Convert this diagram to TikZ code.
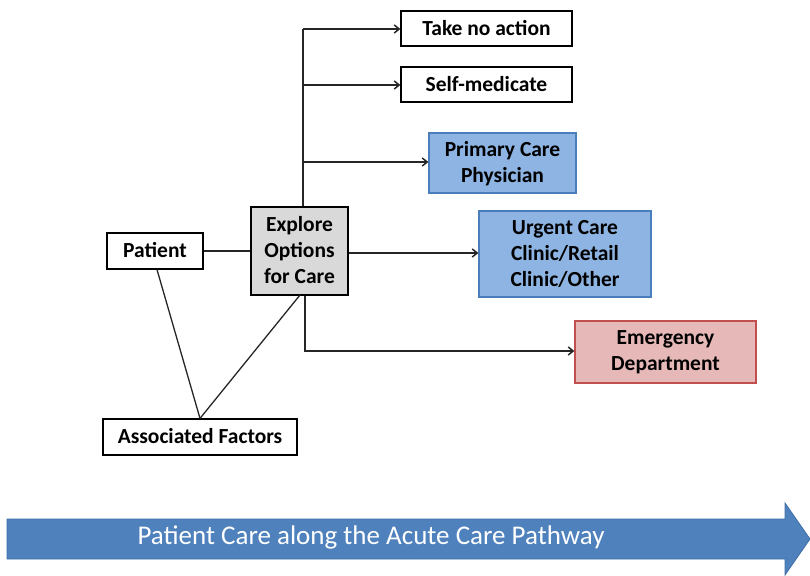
\documentclass[tikz,border=0pt]{standalone}
\usepackage{fontspec}
\setmainfont{Carlito}
\usetikzlibrary{arrows.meta}
\definecolor{bluefill}{HTML}{8DB4E2}
\definecolor{blueline}{HTML}{4A7EBB}
\definecolor{redfill}{HTML}{E6B9B8}
\definecolor{redline}{HTML}{C0504D}
\definecolor{grayfill}{HTML}{D9D9D9}
\definecolor{arrowblue}{HTML}{4F81BD}
\definecolor{arrowline}{HTML}{3F6EA8}
\tikzset{
  box/.style={draw=black, line width=1.2pt, fill=white, inner sep=0pt, align=center,
    font=\bfseries\fontsize{21.5}{26}\selectfont, text depth=2pt},
  bluebox/.style={box, draw=blueline, fill=bluefill},
  redbox/.style={box, draw=redline, fill=redfill},
  conn/.style={line width=1.5pt, draw=black!85},
  arr/.style={conn, -{Straight Barb[length=5pt,width=8pt]}},
}
\begin{document}
\begin{tikzpicture}[x=1pt,y=-1pt]
\useasboundingbox (0,0) rectangle (810,575);
% nodes
\node[box, minimum width=171pt, minimum height=35pt] (take) at (486.5,28.5) {Take no action};
\node[box, minimum width=171pt, minimum height=35pt] (self) at (486.5,84.5) {Self-medicate};
\node[bluebox, minimum width=147pt, minimum height=60pt] (pcp) at (502.5,163) {Primary Care\\Physician};
\node[box, fill=grayfill, minimum width=97pt, minimum height=88pt] (explore) at (299.5,251) {Explore\\Options\\for Care};
\node[box, minimum width=96pt, minimum height=36pt] (patient) at (155,251) {Patient};
\node[bluebox, minimum width=172pt, minimum height=86pt] (urgent) at (565,254) {Urgent Care\\Clinic/Retail\\Clinic/Other};
\node[redbox, minimum width=181pt, minimum height=62pt] (ed) at (665.5,352) {Emergency\\Department};
\node[box, minimum width=194pt, minimum height=36pt] (assoc) at (200,437) {Associated Factors};
% connectors
\coordinate (trunktop) at (303,29);
\coordinate (b2) at (303,85);
\coordinate (b3) at (303,162);
\coordinate (edturn) at (305,351);
\draw[conn, line width=2.2pt] (patient.east) -- (explore.west);
\draw[conn] (explore.north -| trunktop) -- (trunktop);
\draw[arr] (trunktop) -- (take.west |- trunktop);
\draw[arr] (b2) -- (self.west |- b2);
\draw[arr] (b3) -- (pcp.west |- b3);
\draw[arr] (explore.east |- 0,253) -- (urgent.west |- 0,253);
\draw[arr] (explore.south -| edturn) -- (edturn) -- (ed.west |- edturn);
\draw[conn, line width=1.3pt] (patient.south) ++(2,0) coordinate (ps) -- (assoc.north);
\draw[conn, line width=1.3pt] (assoc.north) -- (300,295) coordinate (es);
% big arrow
\draw[draw=arrowline, fill=arrowblue, line width=0.8pt]
  (7,519) -- (785,519) -- (785,503) -- (810,539) -- (785,575) -- (785,559) -- (7,559) -- cycle;
\node[text=white, font=\fontsize{27}{30}\selectfont, inner sep=0pt] (pathway) at (371,537) {Patient Care along the Acute Care Pathway};
\end{tikzpicture}
\end{document}
